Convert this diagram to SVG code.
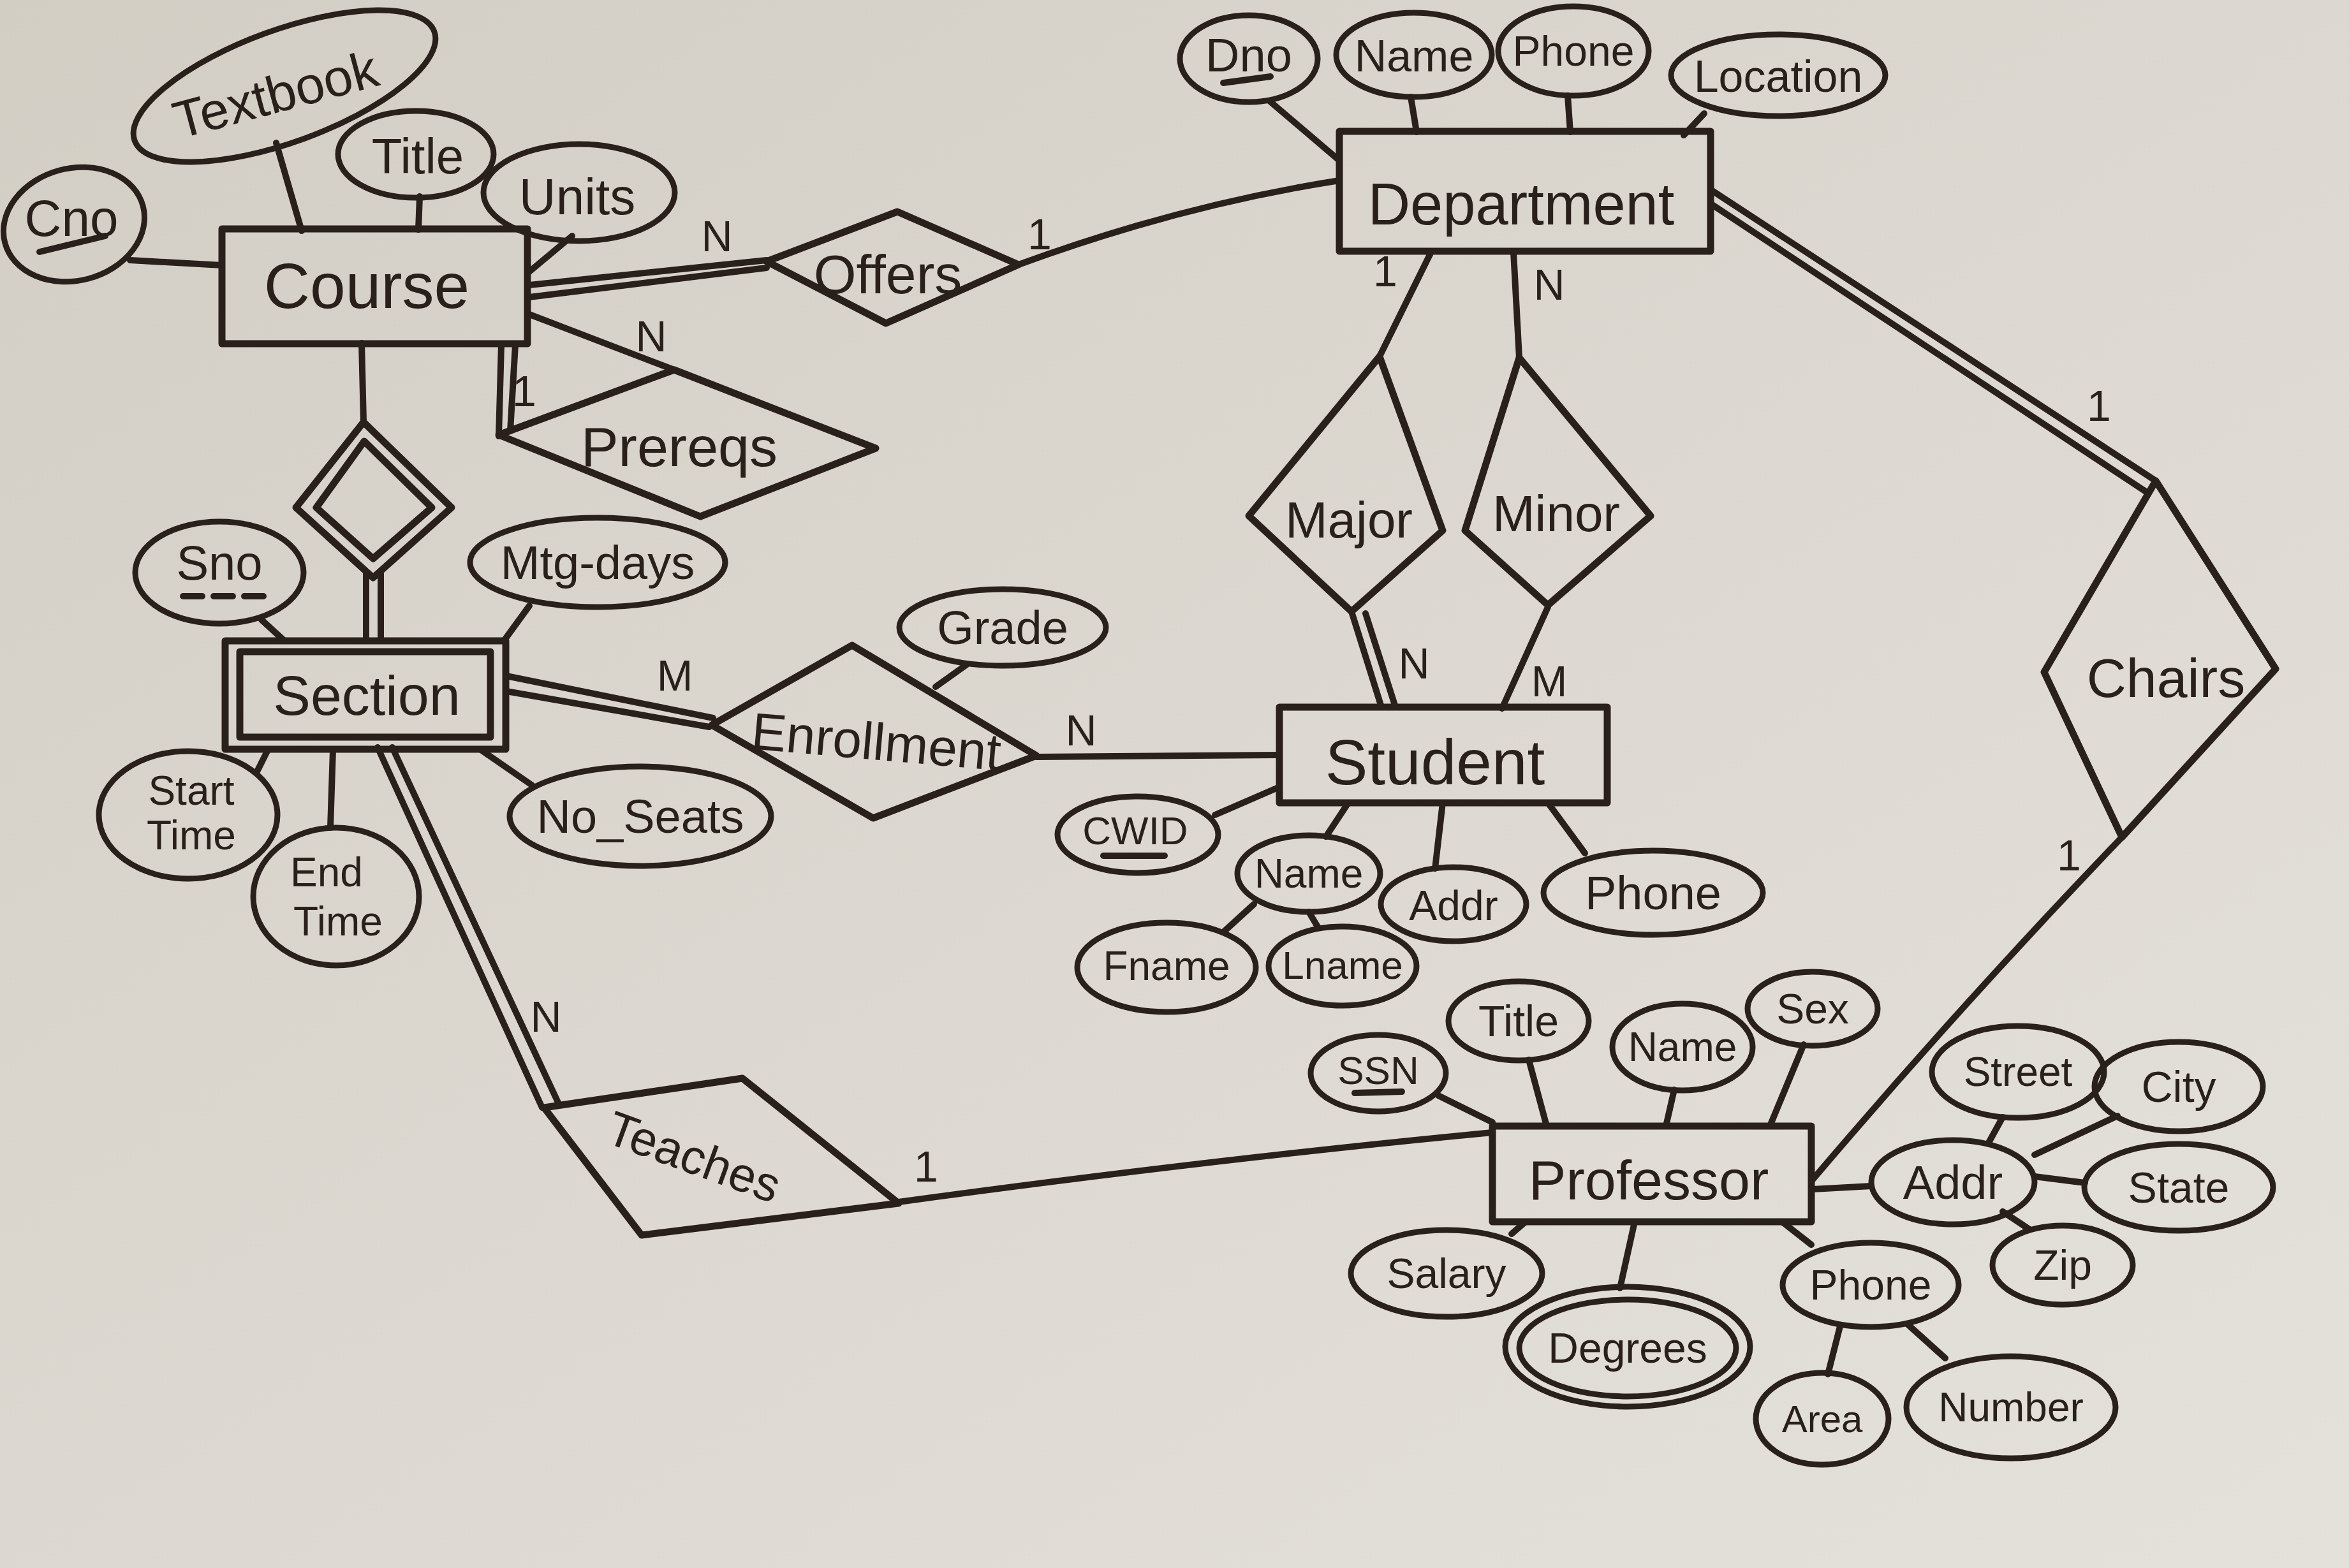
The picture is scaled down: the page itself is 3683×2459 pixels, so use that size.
<svg xmlns="http://www.w3.org/2000/svg" width="3683" height="2459" viewBox="0 0 3683 2459">
<defs>
<linearGradient id="paper" x1="0" y1="0" x2="1" y2="1">
<stop offset="0" stop-color="#d3cec4"/>
<stop offset="0.6" stop-color="#dedad3"/>
<stop offset="1" stop-color="#e4e1db"/>
</linearGradient>
<style>
.ln{stroke:#2a201b;stroke-width:10;fill:none;stroke-linecap:round;stroke-linejoin:round}
.sh{stroke:#2a201b;stroke-width:11;fill:none;stroke-linejoin:round}
.el{stroke:#2a201b;stroke-width:9;fill:none}
.t{font-family:"Liberation Sans",Arial,sans-serif;fill:#2a201b;text-anchor:middle;dominant-baseline:central}
.ent{font-size:100px}
.rel{font-size:86px}
.att{font-size:70px}
.card{font-size:68px}
.dash{stroke-dasharray:30 18}
</style>
</defs>
<rect x="0" y="0" width="3683" height="2459" fill="url(#paper)"/>

<g id="connectors">
<line class="ln" x1="830" y1="447" x2="1202" y2="408"/>
<line class="ln" x1="830" y1="466" x2="1202" y2="420"/>
<path class="ln" d="M1597,415 Q1850,322 2100,283"/>
<line class="ln" x1="830" y1="493" x2="1057" y2="580"/>
<line class="ln" x1="786" y1="540" x2="782" y2="684"/>
<line class="ln" x1="808" y1="540" x2="800" y2="676"/>
<line class="ln" x1="567" y1="538" x2="570" y2="662"/>
<line class="ln" x1="574" y1="900" x2="574" y2="1005"/>
<line class="ln" x1="597" y1="900" x2="597" y2="1005"/>
<line class="ln" x1="794" y1="1060" x2="1118" y2="1126"/>
<line class="ln" x1="794" y1="1084" x2="1112" y2="1140"/>
<line class="ln" x1="1625" y1="1187" x2="2004" y2="1184"/>
<line class="ln" x1="592" y1="1172" x2="850" y2="1737"/>
<line class="ln" x1="615" y1="1172" x2="876" y2="1731"/>
<path class="ln" d="M1409,1885 Q1900,1818 2340,1776"/>
<line class="ln" x1="2244" y1="395" x2="2163" y2="559"/>
<line class="ln" x1="2373" y1="395" x2="2382" y2="561"/>
<line class="ln" x1="2119" y1="959" x2="2166" y2="1109"/>
<line class="ln" x1="2141" y1="962" x2="2188" y2="1109"/>
<line class="ln" x1="2427" y1="952" x2="2355" y2="1111"/>
<line class="ln" x1="2683" y1="298" x2="3380" y2="754"/>
<line class="ln" x1="2683" y1="320" x2="3366" y2="772"/>
<path class="ln" d="M3327,1313 Q3080,1570 2842,1850"/>

<line class="ln" x1="204" y1="408" x2="348" y2="416"/>
<line class="ln" x1="433" y1="224" x2="473" y2="362"/>
<line class="ln" x1="658" y1="308" x2="656" y2="360"/>
<line class="ln" x1="897" y1="370" x2="830" y2="426"/>
<line class="ln" x1="1990" y1="158" x2="2098" y2="250"/>
<line class="ln" x1="2212" y1="152" x2="2221" y2="207"/>
<line class="ln" x1="2458" y1="150" x2="2462" y2="207"/>
<line class="ln" x1="2672" y1="178" x2="2640" y2="212"/>
<line class="ln" x1="410" y1="972" x2="446" y2="1005"/>
<line class="ln" x1="830" y1="950" x2="790" y2="1005"/>
<line class="ln" x1="420" y1="1176" x2="402" y2="1212"/>
<line class="ln" x1="522" y1="1176" x2="518" y2="1298"/>
<line class="ln" x1="754" y1="1176" x2="835" y2="1232"/>
<line class="ln" x1="1516" y1="1042" x2="1467" y2="1077"/>
<line class="ln" x1="1905" y1="1278" x2="2004" y2="1235"/>
<line class="ln" x1="2114" y1="1259" x2="2079" y2="1312"/>
<line class="ln" x1="2262" y1="1259" x2="2250" y2="1362"/>
<line class="ln" x1="2427" y1="1259" x2="2485" y2="1338"/>
<line class="ln" x1="1966" y1="1418" x2="1920" y2="1460"/>
<line class="ln" x1="2052" y1="1430" x2="2067" y2="1455"/>
<line class="ln" x1="2255" y1="1718" x2="2340" y2="1760"/>
<line class="ln" x1="2397" y1="1662" x2="2425" y2="1766"/>
<line class="ln" x1="2625" y1="1709" x2="2612" y2="1766"/>
<line class="ln" x1="2828" y1="1638" x2="2775" y2="1766"/>
<line class="ln" x1="2392" y1="1916" x2="2370" y2="1935"/>
<line class="ln" x1="2563" y1="1916" x2="2540" y2="2020"/>
<line class="ln" x1="2794" y1="1916" x2="2840" y2="1952"/>
<line class="ln" x1="2885" y1="2080" x2="2866" y2="2155"/>
<line class="ln" x1="2990" y1="2076" x2="3050" y2="2130"/>
<line class="ln" x1="2842" y1="1865" x2="2934" y2="1860"/>
<line class="ln" x1="3140" y1="1752" x2="3118" y2="1792"/>
<line class="ln" x1="3320" y1="1750" x2="3190" y2="1811"/>
<line class="ln" x1="3190" y1="1845" x2="3269" y2="1855"/>
<line class="ln" x1="3140" y1="1900" x2="3182" y2="1928"/>
</g>

<g id="cardinalities">
<text class="t card" x="1124" y="370">N</text>
<text class="t card" x="1630" y="367">1</text>
<text class="t card" x="1021" y="527">N</text>
<text class="t card" x="822" y="613">1</text>
<text class="t card" x="2172" y="425">1</text>
<text class="t card" x="2429" y="446">N</text>
<text class="t card" x="2217" y="1040">N</text>
<text class="t card" x="2429" y="1068">M</text>
<text class="t card" x="1058" y="1059">M</text>
<text class="t card" x="1695" y="1145">N</text>
<text class="t card" x="856" y="1594">N</text>
<text class="t card" x="1452" y="1829">1</text>
<text class="t card" x="3291" y="636">1</text>
<text class="t card" x="3244" y="1341">1</text>
</g>

<g id="Course">
<rect class="sh" x="348" y="359" width="479" height="180"/>
<text class="t ent" x="575" y="448">Course</text>
</g>
<g id="Department">
<rect class="sh" x="2100" y="206" width="582" height="188"/>
<text class="t ent" x="2385" y="320" style="font-size:92px">Department</text>
</g>
<g id="Student">
<rect class="sh" x="2006" y="1109" width="514" height="150"/>
<text class="t ent" x="2250" y="1195">Student</text>
</g>
<g id="Professor">
<rect class="sh" x="2340" y="1766" width="500" height="150"/>
<text class="t ent" x="2585" y="1850" style="font-size:88px">Professor</text>
</g>
<g id="Section">
<rect class="sh" x="353" y="1005" width="440" height="170"/>
<rect class="sh" x="376" y="1022" width="393" height="134"/>
<text class="t ent" x="575" y="1090" style="font-size:88px">Section</text>
</g>

<g id="Offers">
<polygon class="sh" points="1202,410 1407,332 1597,415 1389,507"/>
<text class="t rel" x="1392" y="430">Offers</text>
</g>
<g id="Prereqs">
<polygon class="sh" points="782,682 1057,580 1373,703 1098,810"/>
<text class="t rel" x="1065" y="700" style="font-size:88px">Prereqs</text>
</g>
<g id="CourseSection">
<polygon class="sh" points="570,662 464,796 585,906 708,796"/>
<polygon class="sh" points="571,692 496,796 585,876 677,796"/>
</g>
<g id="Enrollment">
<polygon class="sh" points="1116,1137 1336,1012 1625,1185 1369,1283"/>
<text class="t rel" x="1374" y="1163" transform="rotate(5 1374 1163)" style="font-size:82px">Enrollment</text>
</g>
<g id="Major">
<polygon class="sh" points="2163,559 1958,809 2119,959 2262,832"/>
<text class="t rel" x="2115" y="815" style="font-size:80px">Major</text>
</g>
<g id="Minor">
<polygon class="sh" points="2382,561 2297,832 2427,949 2588,809"/>
<text class="t rel" x="2440" y="805" style="font-size:80px">Minor</text>
</g>
<g id="Chairs">
<polygon class="sh" points="3380,754 3205,1054 3327,1313 3568,1049"/>
<text class="t rel" x="3396" y="1063">Chairs</text>
</g>
<g id="Teaches">
<polygon class="sh" points="853,1737 1164,1691 1409,1887 1006,1937"/>
<text class="t rel" x="1088" y="1814" transform="rotate(20 1088 1814)" style="font-size:76px">Teaches</text>
</g>

<g id="Course-Cno">
<ellipse class="el" cx="116" cy="352" rx="112" ry="88" transform="rotate(-15 116 352)"/>
<text class="t att" x="112" y="342" style="font-size:80px">Cno</text>
<line class="ln" x1="62" y1="395" x2="165" y2="370"/>
</g>
<g id="Course-Textbook">
<ellipse class="el" cx="446" cy="135" rx="250" ry="88" transform="rotate(-20 446 135)"/>
<text class="t att" x="432" y="148" transform="rotate(-15 432 148)" style="font-size:82px">Textbook</text>
</g>
<g id="Course-Title">
<ellipse class="el" cx="652" cy="242" rx="122" ry="68"/>
<text class="t att" x="655" y="245" style="font-size:78px">Title</text>
</g>
<g id="Course-Units">
<ellipse class="el" cx="908" cy="302" rx="150" ry="76"/>
<text class="t att" x="905" y="308" style="font-size:80px">Units</text>
</g>

<g id="Department-Dno">
<ellipse class="el" cx="1958" cy="92" rx="108" ry="68"/>
<text class="t att" x="1958" y="86" style="font-size:74px">Dno</text>
<line class="ln" x1="1918" y1="130" x2="1992" y2="120"/>
</g>
<g id="Department-Name">
<ellipse class="el" cx="2217" cy="86" rx="122" ry="66"/>
<text class="t att" x="2217" y="88">Name</text>
</g>
<g id="Department-Phone">
<ellipse class="el" cx="2467" cy="80" rx="118" ry="70"/>
<text class="t att" x="2467" y="80" style="font-size:66px">Phone</text>
</g>
<g id="Department-Location">
<ellipse class="el" cx="2788" cy="118" rx="168" ry="64"/>
<text class="t att" x="2788" y="120">Location</text>
</g>

<g id="Section-Sno">
<ellipse class="el" cx="344" cy="898" rx="132" ry="80"/>
<text class="t att" x="344" y="882" style="font-size:76px">Sno</text>
<line class="ln dash" x1="287" y1="935" x2="425" y2="935"/>
</g>
<g id="Section-Mtgdays">
<ellipse class="el" cx="937" cy="882" rx="200" ry="70"/>
<text class="t att" x="937" y="882" style="font-size:74px">Mtg-days</text>
</g>
<g id="Section-StartTime">
<ellipse class="el" cx="295" cy="1278" rx="140" ry="100"/>
<text class="t att" x="300" y="1240" style="font-size:64px">Start</text>
<text class="t att" x="300" y="1310" style="font-size:64px">Time</text>
</g>
<g id="Section-EndTime">
<ellipse class="el" cx="527" cy="1406" rx="130" ry="108"/>
<text class="t att" x="512" y="1368" style="font-size:64px">End</text>
<text class="t att" x="530" y="1445" style="font-size:64px">Time</text>
</g>
<g id="Section-NoSeats">
<ellipse class="el" cx="1004" cy="1280" rx="205" ry="78"/>
<text class="t att" x="1004" y="1280" style="font-size:74px">No_Seats</text>
</g>

<g id="Enrollment-Grade">
<ellipse class="el" cx="1572" cy="984" rx="162" ry="60"/>
<text class="t att" x="1572" y="984" style="font-size:74px">Grade</text>
</g>

<g id="Student-CWID">
<ellipse class="el" cx="1784" cy="1309" rx="126" ry="60"/>
<text class="t att" x="1780" y="1302" style="font-size:62px">CWID</text>
<line class="ln" x1="1730" y1="1342" x2="1826" y2="1342"/>
</g>
<g id="Student-Name">
<ellipse class="el" cx="2052" cy="1370" rx="112" ry="60"/>
<text class="t att" x="2052" y="1370" style="font-size:64px">Name</text>
</g>
<g id="Student-Addr">
<ellipse class="el" cx="2279" cy="1418" rx="114" ry="58"/>
<text class="t att" x="2279" y="1420" style="font-size:66px">Addr</text>
</g>
<g id="Student-Phone">
<ellipse class="el" cx="2592" cy="1400" rx="172" ry="66"/>
<text class="t att" x="2592" y="1400" style="font-size:74px">Phone</text>
</g>
<g id="Student-Fname">
<ellipse class="el" cx="1829" cy="1517" rx="140" ry="70"/>
<text class="t att" x="1829" y="1515" style="font-size:64px">Fname</text>
</g>
<g id="Student-Lname">
<ellipse class="el" cx="2105" cy="1515" rx="116" ry="62"/>
<text class="t att" x="2105" y="1513" style="font-size:62px">Lname</text>
</g>

<g id="Professor-SSN">
<ellipse class="el" cx="2161" cy="1683" rx="106" ry="60"/>
<text class="t att" x="2161" y="1678" style="font-size:62px">SSN</text>
<line class="ln" x1="2124" y1="1714" x2="2198" y2="1712"/>
</g>
<g id="Professor-Title">
<ellipse class="el" cx="2381" cy="1601" rx="110" ry="62"/>
<text class="t att" x="2381" y="1601" style="font-size:68px">Title</text>
</g>
<g id="Professor-Name">
<ellipse class="el" cx="2638" cy="1642" rx="110" ry="68"/>
<text class="t att" x="2638" y="1642" style="font-size:64px">Name</text>
</g>
<g id="Professor-Sex">
<ellipse class="el" cx="2842" cy="1582" rx="102" ry="58"/>
<text class="t att" x="2842" y="1582" style="font-size:66px">Sex</text>
</g>
<g id="Professor-Salary">
<ellipse class="el" cx="2268" cy="1997" rx="150" ry="68"/>
<text class="t att" x="2268" y="1997" style="font-size:66px">Salary</text>
</g>
<g id="Professor-Degrees">
<ellipse class="el" cx="2552" cy="2112" rx="192" ry="94"/>
<ellipse class="el" cx="2552" cy="2114" rx="170" ry="76"/>
<text class="t att" x="2552" y="2114" style="font-size:66px">Degrees</text>
</g>
<g id="Professor-Phone">
<ellipse class="el" cx="2933" cy="2015" rx="138" ry="66"/>
<text class="t att" x="2933" y="2015" style="font-size:66px">Phone</text>
</g>
<g id="Professor-Phone-Area">
<ellipse class="el" cx="2857" cy="2225" rx="104" ry="72"/>
<text class="t att" x="2857" y="2225" style="font-size:60px">Area</text>
</g>
<g id="Professor-Phone-Number">
<ellipse class="el" cx="3153" cy="2207" rx="164" ry="80"/>
<text class="t att" x="3153" y="2207" style="font-size:64px">Number</text>
</g>
<g id="Professor-Addr">
<ellipse class="el" cx="3062" cy="1854" rx="128" ry="66"/>
<text class="t att" x="3062" y="1854" style="font-size:74px">Addr</text>
</g>
<g id="Professor-Addr-Street">
<ellipse class="el" cx="3164" cy="1681" rx="135" ry="72"/>
<text class="t att" x="3164" y="1681" style="font-size:64px">Street</text>
</g>
<g id="Professor-Addr-City">
<ellipse class="el" cx="3416" cy="1704" rx="132" ry="70"/>
<text class="t att" x="3416" y="1704" style="font-size:68px">City</text>
</g>
<g id="Professor-Addr-State">
<ellipse class="el" cx="3416" cy="1862" rx="148" ry="68"/>
<text class="t att" x="3416" y="1862" style="font-size:68px">State</text>
</g>
<g id="Professor-Addr-Zip">
<ellipse class="el" cx="3234" cy="1984" rx="110" ry="62"/>
<text class="t att" x="3234" y="1984" style="font-size:66px">Zip</text>
</g>
</svg>
